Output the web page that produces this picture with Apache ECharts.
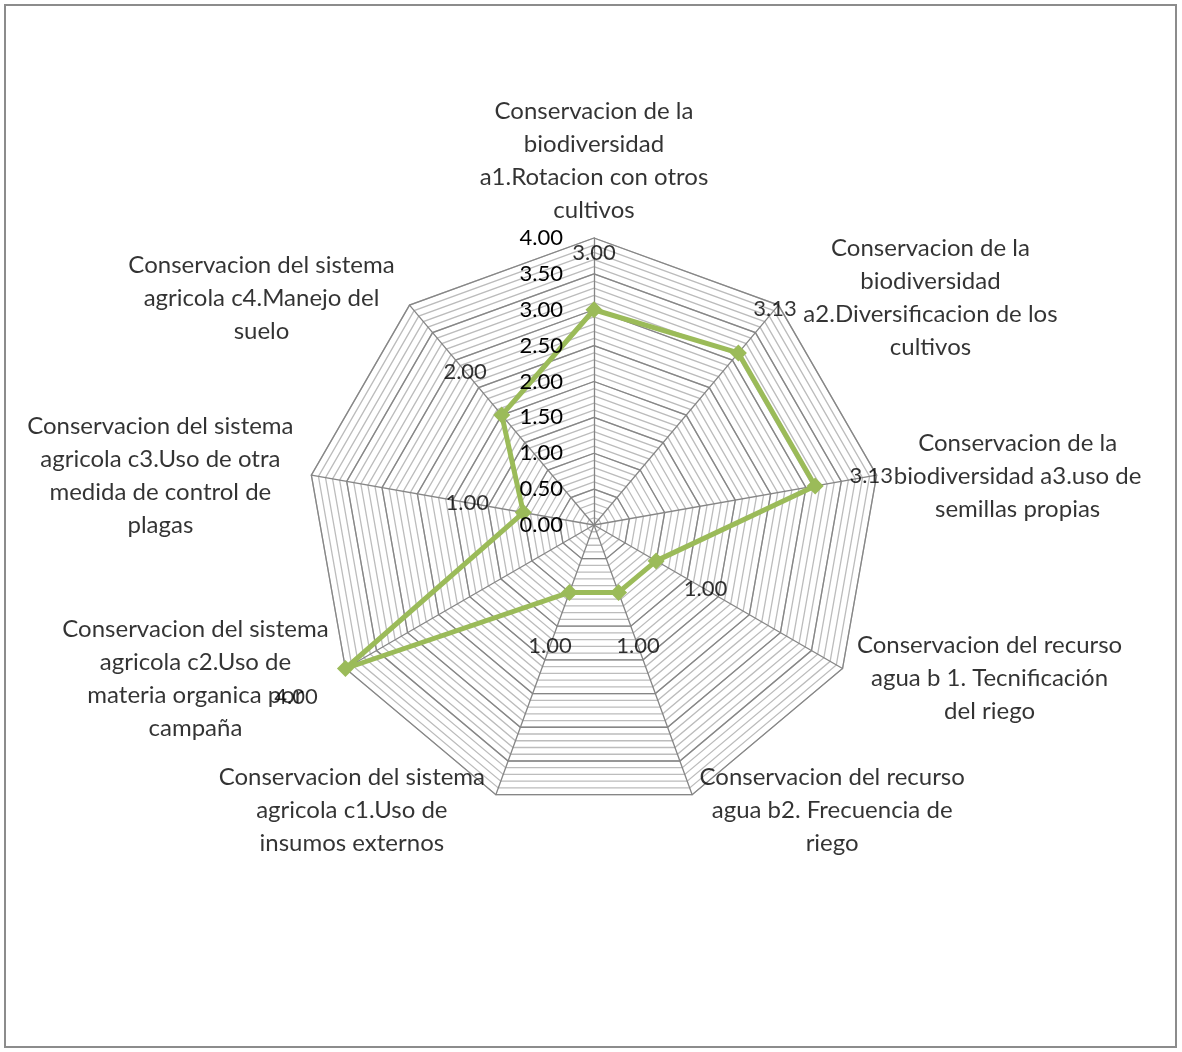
<!DOCTYPE html>
<html>
<head>
<meta charset="utf-8">
<script src="https://cdn.jsdelivr.net/npm/echarts@6/dist/echarts.min.js"></script>
<style>
  html, body { margin: 0; padding: 0; background: #fff; }
  #radar1 { width: 1182px; height: 1052px; }
</style>
</head>
<body>
<div id="radar1"></div>
<script>
// indicadores (ejes del radar), en sentido horario desde arriba
const indicatorNames = [
  'Conservacion de la\nbiodiversidad\na1.Rotacion con otros\ncultivos',
  'Conservacion de la\nbiodiversidad\na2.Diversificacion de los\ncultivos',
  'Conservacion de la\nbiodiversidad a3.uso de\nsemillas propias',
  'Conservacion del recurso\nagua b 1. Tecnificación\ndel riego',
  'Conservacion del recurso\nagua b2. Frecuencia de\nriego',
  'Conservacion del sistema\nagricola c1.Uso de\ninsumos externos',
  'Conservacion del sistema\nagricola c2.Uso de\nmateria organica por\ncampaña',
  'Conservacion del sistema\nagricola c3.Uso de otra\nmedida de control de\nplagas',
  'Conservacion del sistema\nagricola c4.Manejo del\nsuelo'
]
const scores = [3.00, 3.13, 3.13, 1.00, 1.00, 1.00, 4.00, 1.00, 2.00]
const axisMax = 4
const majorStep = 0.5
const minorStep = 0.1

// posiciones de los nombres respecto al vertice (px)
const nameOffsets = [
  [0, -77], [152, -7], [141, 1], [147, 10], [140, 16],
  [-144, 16], [-150, 10], [-151, 1], [-148, -7]
]

const center = [594, 525]
const radius = 287
const font = 'Lato, "Liberation Sans", sans-serif'
const green = '#9bbb59'

// el radar de echarts gira en sentido antihorario: se invierte el orden
const clockwiseOrder = [0].concat(indicatorNames.map((n, i) => i).slice(1).reverse())
const indicators = clockwiseOrder.map(i => ({ name: indicatorNames[i], min: 0, max: axisMax }))
const radarValues = clockwiseOrder.map(i => scores[i])
const step = 360 / indicatorNames.length

const myChart = echarts.init(document.getElementById('radar1'))
const option = {
  animation: false,
  graphic: [{
    type: 'rect',
    shape: { x: 5, y: 5, width: 1171, height: 1042 },
    style: { fill: null, stroke: '#8c8c8c', lineWidth: 2 }
  }],
  radar: [
    {
      center: center,
      radius: radius,
      startAngle: 90,
      shape: 'polygon',
      indicator: indicators,
      splitNumber: Math.round(axisMax / minorStep),
      axisName: { show: false },
      axisLine: { lineStyle: { color: '#868686', width: 1.3 } },
      splitLine: { lineStyle: { color: '#bcbcbc', width: 1.3 } },
      splitArea: { show: false }
    },
    {
      center: center,
      radius: radius,
      startAngle: 90,
      shape: 'polygon',
      indicator: indicators,
      splitNumber: Math.round(axisMax / majorStep),
      axisName: { show: false },
      axisLine: { show: false },
      splitLine: { lineStyle: { color: '#868686', width: 1.3 } },
      splitArea: { show: false }
    }
  ],
  polar: { center: center, radius: radius },
  angleAxis: {
    type: 'category',
    data: indicatorNames,
    startAngle: 90,
    clockwise: true,
    boundaryGap: false,
    axisLine: { show: false },
    axisTick: { show: false },
    axisLabel: { show: false },
    splitLine: { show: false }
  },
  radiusAxis: {
    min: 0,
    max: axisMax,
    interval: majorStep,
    axisLine: { show: false },
    axisTick: { show: false },
    splitLine: { show: false },
    axisLabel: {
      formatter: v => v.toFixed(2),
      margin: 31,
      fontFamily: font,
      fontSize: 22,
      color: '#000'
    },
    z: 10
  },
  series: [
    {
      type: 'radar',
      radarIndex: 0,
      symbol: 'diamond',
      symbolSize: 17,
      lineStyle: { color: green, width: 5 },
      itemStyle: { color: green },
      data: [{ value: radarValues }],
      z: 5
    },
    {
      // etiquetas de datos
      type: 'scatter',
      coordinateSystem: 'polar',
      symbolSize: 0,
      silent: true,
      z: 8,
      data: scores.map((v, i) => {
        const a = i * step * Math.PI / 180
        return {
          value: [v, i],
          label: { offset: [57 * Math.sin(a), -57 * Math.cos(a)] }
        }
      }),
      label: {
        show: true,
        position: 'inside',
        formatter: p => p.value[0].toFixed(2),
        fontFamily: font,
        fontSize: 22,
        color: '#000'
      }
    },
    {
      // nombres de los indicadores
      type: 'scatter',
      coordinateSystem: 'polar',
      symbolSize: 0,
      silent: true,
      z: 7,
      data: indicatorNames.map((n, i) => ({
        value: [axisMax, i],
        label: { offset: nameOffsets[i] }
      })),
      label: {
        show: true,
        position: 'inside',
        formatter: p => indicatorNames[p.dataIndex],
        align: 'center',
        verticalAlign: 'middle',
        lineHeight: 33,
        fontFamily: font,
        fontSize: 24,
        color: '#000'
      }
    }
  ]
}
myChart.setOption(option)
</script>
</body>
</html>
